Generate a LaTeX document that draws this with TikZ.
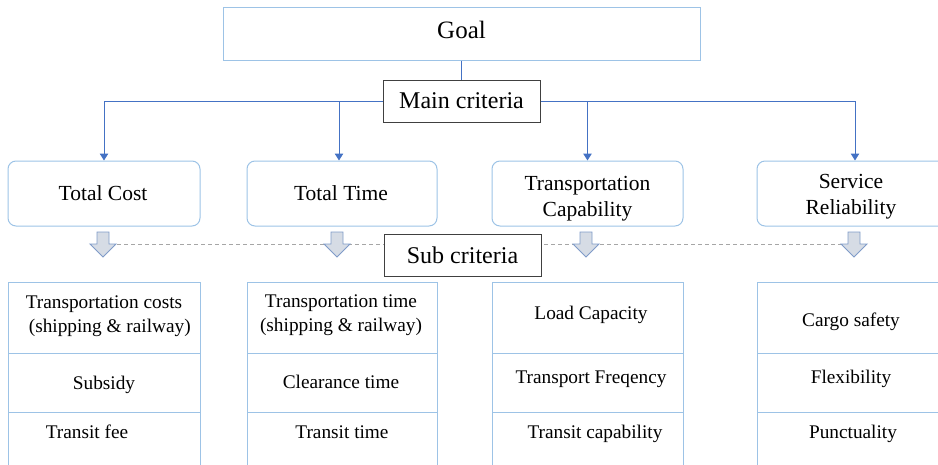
\documentclass[tikz,border=0pt]{standalone}
\usepackage{fontspec}
\setmainfont{Liberation Serif}
\usetikzlibrary{arrows.meta}
\definecolor{boxblue}{HTML}{9DC3E6}
\definecolor{linkblue}{HTML}{4472C4}
\definecolor{arrowfill}{HTML}{D6DCE5}
\definecolor{arrowedge}{HTML}{7F9BC8}
\definecolor{framegray}{HTML}{404040}
\definecolor{dashgray}{HTML}{A6A6A6}
\begin{document}
\begin{tikzpicture}[x=1pt,y=-1pt,
  goalbox/.style={draw=boxblue, line width=1pt, minimum width=477pt, minimum height=53pt, inner sep=0pt},
  levelbox/.style={draw=framegray, fill=white, line width=1pt, minimum width=157pt, minimum height=42pt, inner sep=0pt, font=\fontsize{24}{28}\selectfont},
  critbox/.style={draw=boxblue, line width=1pt, rounded corners=8pt, minimum height=65pt, inner sep=0pt},
  crittext/.style={align=center, font=\fontsize{21.5}{26}\selectfont},
  cell/.style={draw=boxblue, line width=1pt, inner sep=0pt},
  celltext/.style={align=center, font=\fontsize{19.3}{23.5}\selectfont},
  link/.style={draw=linkblue, line width=1pt, -{Triangle[width=8.5pt,length=7pt]}},
  blockarrow/.style={draw=arrowedge, fill=arrowfill, line width=0.9pt, line join=miter},
  guide/.style={draw=dashgray, line width=0.8pt, dash pattern=on 4pt off 3pt}
]
\useasboundingbox (0,0) rectangle (938,464);
\clip (0,0) rectangle (938,464);

% top level
\node[goalbox] (goal) at (461.5,33.5) {};
\node[font=\fontsize{25}{30}\selectfont] (goaltext) at (461.5,30) {Goal};
\node[levelbox] (main) at (461.5,101) {Main criteria};
\draw[draw=linkblue, line width=1pt] (goal.south) -- (main.north);

% main criteria
\node[critbox, minimum width=192pt] (tc)   at (104,193.5) {};
\node[critbox, minimum width=190pt] (tt)   at (342,193.5) {};
\node[critbox, minimum width=191pt] (tcap) at (587.5,193.5) {};
\node[critbox, minimum width=196pt] (sr)   at (855,193.5) {};
\node[crittext] (tctext)   at (103,193) {Total Cost};
\node[crittext] (tttext)   at (341,193) {Total Time};
\node[crittext] (tcaptext) at (587.5,199) {Transportation\\Capability};
\node[crittext] (srtext)   at (851,196.5) {Service\\Reliability};

\draw[link] (main.west) -| (tc.north);
\draw[link] (main.west) -| ([xshift=-3pt]tt.north);
\draw[link] (main.east) -| (tcap.north);
\draw[link] (main.east) -| (sr.north);

% sub criteria guide line and block arrows
\coordinate (d1) at (103,244);
\coordinate (d4) at (854,244);
\draw[guide] (d1) -- (d4);
\foreach \name/\x in {ba1/103, ba2/337, ba3/586, ba4/854}{
  \coordinate (\name) at (\x,232);
  \draw[blockarrow] (\name) ++(-6,0) -- ++(12,0) -- ++(0,12) -- ++(7,0)
        -- ++(-13,13) -- ++(-13,-13) -- ++(7,0) -- cycle;
}
\node[levelbox] (sub) at (462.5,255) {Sub criteria};

% sub criteria tables
\foreach \col/\x/\w in {a/104/192, b/342/190, c/587.5/191, d/855/196}{
  \node[cell, minimum width=\w pt, minimum height=71pt] (\col1) at (\x,317.5) {};
  \node[cell, minimum width=\w pt, minimum height=59pt] (\col2) at (\x,382.5) {};
  \node[cell, minimum width=\w pt, minimum height=68pt] (\col3) at (\x,446) {};
}

\node[celltext] (a1t) at (104,316) {Transportation costs\\\hspace*{0.6em}(shipping \& railway)};
\node[celltext] (a2t) at (104,385) {Subsidy};
\node[celltext] (a3t) at (87,432) {Transit fee};

\node[celltext] (b1t) at (341,315) {Transportation time\\(shipping \& railway)};
\node[celltext] (b2t) at (341,382) {Clearance time};
\node[celltext] (b3t) at (342,432) {Transit time};

\node[celltext] (c1t) at (591,315) {Load Capacity};
\node[celltext] (c2t) at (591,379) {Transport Freqency};
\node[celltext] (c3t) at (595,434) {Transit capability};

\node[celltext] (d1t) at (851,322) {Cargo safety};
\node[celltext] (d2t) at (851,379) {Flexibility};
\node[celltext] (d3t) at (853,434) {Punctuality};
\end{tikzpicture}
\end{document}
